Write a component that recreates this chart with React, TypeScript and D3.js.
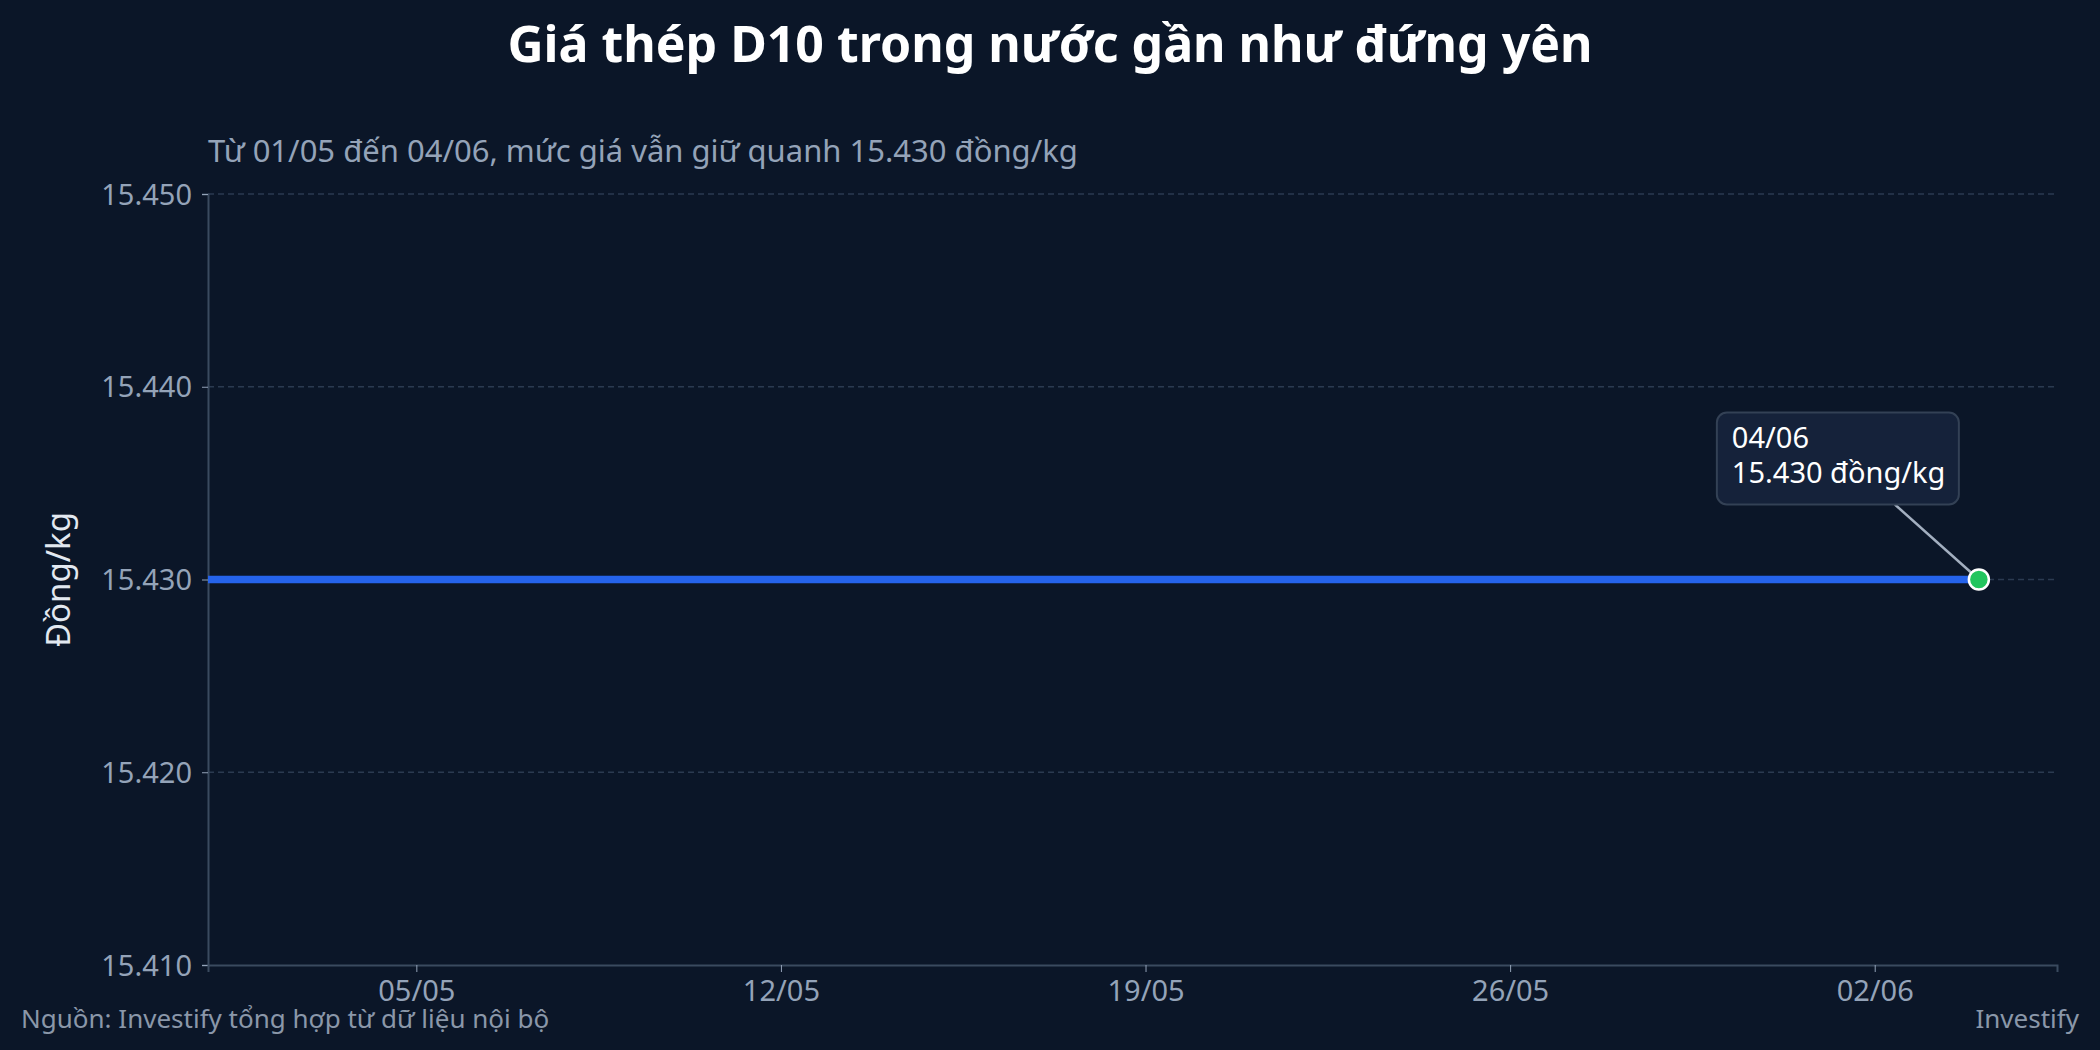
import * as d3 from "d3";
import { useEffect, useRef } from "react";

const DATES = [
  "2025-05-01", "2025-05-02", "2025-05-03", "2025-05-04", "2025-05-05", "2025-05-06", "2025-05-07",
  "2025-05-08", "2025-05-09", "2025-05-10", "2025-05-11", "2025-05-12", "2025-05-13", "2025-05-14",
  "2025-05-15", "2025-05-16", "2025-05-17", "2025-05-18", "2025-05-19", "2025-05-20", "2025-05-21",
  "2025-05-22", "2025-05-23", "2025-05-24", "2025-05-25", "2025-05-26", "2025-05-27", "2025-05-28",
  "2025-05-29", "2025-05-30", "2025-05-31", "2025-06-01", "2025-06-02", "2025-06-03", "2025-06-04",
];
const PRICES = [
  15430, 15430, 15430, 15430, 15430, 15430, 15430,
  15430, 15430, 15430, 15430, 15430, 15430, 15430,
  15430, 15430, 15430, 15430, 15430, 15430, 15430,
  15430, 15430, 15430, 15430, 15430, 15430, 15430,
  15430, 15430, 15430, 15430, 15430, 15430, 15430,
];
const X_TICKS = ["2025-05-05", "2025-05-12", "2025-05-19", "2025-05-26", "2025-06-02"];
const Y_TICKS = [15410, 15420, 15430, 15440, 15450];
const X_DOMAIN = ["2025-05-01T00:00", "2025-06-05T12:00"];
const Y_DOMAIN = [15410, 15450];

const TITLE = "Giá thép D10 trong nước gần như đứng yên";
const SUBTITLE = "Từ 01/05 đến 04/06, mức giá vẫn giữ quanh 15.430 đồng/kg";
const Y_LABEL = "Đồng/kg";
const SOURCE = "Nguồn: Investify tổng hợp từ dữ liệu nội bộ";
const BRAND = "Investify";

const W = 2100;
const H = 1050;
const BG = "#0b1628";
const FONT = "'Noto Sans', 'Open Sans', sans-serif";

export default function App() {
  const ref = useRef<SVGSVGElement>(null);

  useEffect(() => {
    if (!ref.current) return;
    const svg = d3.select(ref.current);
    svg.selectAll("*").remove();

    const margin = { top: 194, right: 43, bottom: 85, left: 208 };
    const innerW = W - margin.left - margin.right;
    const innerH = H - margin.top - margin.bottom;

    const parse = (s: string) => new Date(s);
    const data = DATES.map((d, i) => ({ date: parse(d), value: PRICES[i] }));

    const x = d3.scaleTime().domain(X_DOMAIN.map(parse)).range([0, innerW]);
    const y = d3.scaleLinear().domain(Y_DOMAIN).range([innerH, 0]);

    const vn = d3.formatLocale({ decimal: ",", thousands: ".", grouping: [3], currency: ["", ""] });
    const fmtY = vn.format(",d");
    const fmtX = d3.timeFormat("%d/%m");

    svg.append("rect").attr("width", W).attr("height", H).attr("fill", BG);

    svg
      .append("text")
      .attr("x", W / 2)
      .attr("y", 62)
      .attr("text-anchor", "middle")
      .attr("fill", "#ffffff")
      .style("font-size", "50px")
      .style("font-weight", 700)
      .text(TITLE);

    svg
      .append("text")
      .attr("x", margin.left)
      .attr("y", 162)
      .attr("fill", "#94a3b8")
      .style("font-size", "31px")
      .text(SUBTITLE);

    const g = svg.append("g").attr("transform", `translate(${margin.left},${margin.top})`);

    // gridlines
    g.append("g")
      .selectAll("line")
      .data(Y_TICKS.filter((t) => t !== Y_DOMAIN[0]))
      .join("line")
      .attr("x1", 0)
      .attr("x2", innerW)
      .attr("y1", (d) => y(d))
      .attr("y2", (d) => y(d))
      .attr("stroke", "#2b3a50")
      .attr("stroke-width", 1.3)
      .attr("stroke-dasharray", "6,4");

    // axes
    const yAxis = g
      .append("g")
      .call(d3.axisLeft(y).tickValues(Y_TICKS).tickFormat((d) => fmtY(d as number)).tickSize(6).tickPadding(10));
    yAxis.select(".domain").attr("stroke", "#3a4a5f").attr("stroke-width", 2);
    yAxis.selectAll(".tick line").attr("stroke", "#94a3b8");
    yAxis.selectAll("text").attr("fill", "#94a3b8").style("font-size", "29px").style("font-family", FONT).attr("dy", "0.35em");

    const xAxis = g
      .append("g")
      .attr("transform", `translate(0,${innerH})`)
      .call(d3.axisBottom(x).tickValues(X_TICKS.map(parse)).tickFormat((d) => fmtX(d as Date)).tickSize(7).tickPadding(8));
    xAxis.select(".domain").attr("stroke", "#3a4a5f").attr("stroke-width", 2);
    xAxis.selectAll(".tick line").attr("stroke", "#94a3b8");
    xAxis.selectAll("text").attr("fill", "#94a3b8").style("font-size", "29px").style("font-family", FONT);

    // line
    const line = d3
      .line<{ date: Date; value: number }>()
      .x((d) => x(d.date))
      .y((d) => y(d.value));
    g.append("path")
      .datum(data)
      .attr("d", line)
      .attr("fill", "none")
      .attr("stroke", "#2563eb")
      .attr("stroke-width", 7.5);

    // last point + annotation
    const last = data[data.length - 1];
    const px = x(last.date);
    const py = y(last.value);
    const boxW = 242;
    const boxH = 92;
    const bx = px - 262;
    const by = py - 167;

    g.append("line")
      .attr("x1", bx + 178)
      .attr("y1", by + boxH)
      .attr("x2", px)
      .attr("y2", py)
      .attr("stroke", "#a3afc0")
      .attr("stroke-width", 2.5);

    g.append("rect")
      .attr("x", bx)
      .attr("y", by)
      .attr("width", boxW)
      .attr("height", boxH)
      .attr("rx", 10)
      .attr("fill", "#15223a")
      .attr("stroke", "#334155")
      .attr("stroke-width", 2);

    const label = g
      .append("text")
      .attr("x", bx + 15)
      .attr("y", by + 35)
      .attr("fill", "#ffffff")
      .style("font-size", "29px");
    label.append("tspan").attr("x", bx + 15).text(fmtX(last.date));
    label.append("tspan").attr("x", bx + 15).attr("dy", 35).text(`${fmtY(last.value)} đồng/kg`);

    g.append("circle")
      .attr("cx", px)
      .attr("cy", py)
      .attr("r", 10)
      .attr("fill", "#22c55e")
      .attr("stroke", "#ffffff")
      .attr("stroke-width", 2.5);

    // y label
    svg
      .append("text")
      .attr("transform", `translate(70,${margin.top + innerH / 2}) rotate(-90)`)
      .attr("text-anchor", "middle")
      .attr("fill", "#e2e8f0")
      .style("font-size", "33px")
      .text(Y_LABEL);

    // footer
    svg
      .append("text")
      .attr("x", 21)
      .attr("y", 1028)
      .attr("fill", "#8a97a9")
      .style("font-size", "26px")
      .text(SOURCE);
    svg
      .append("text")
      .attr("x", 2079)
      .attr("y", 1028)
      .attr("text-anchor", "end")
      .attr("fill", "#8a97a9")
      .style("font-size", "26px")
      .text(BRAND);
  }, []);

  return (
    <div style={{ position: "absolute", left: 0, top: 0, width: W, height: H, background: BG }}>
      <svg ref={ref} width={W} height={H} style={{ display: "block", fontFamily: FONT }} />
    </div>
  );
}
